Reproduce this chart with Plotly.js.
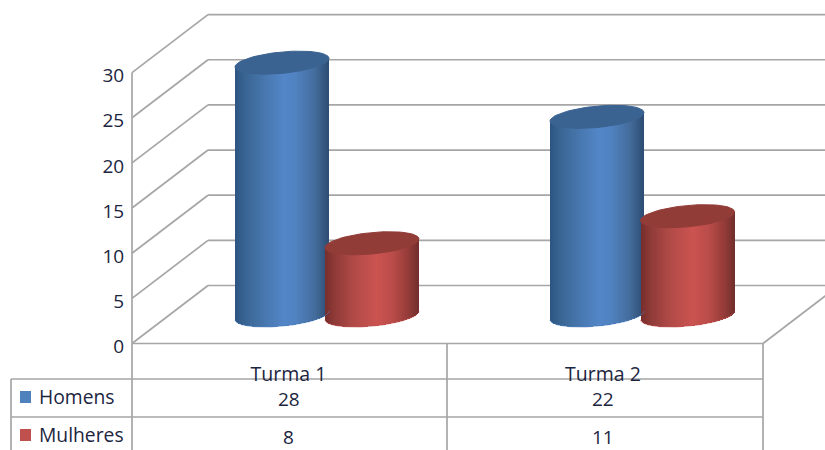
<!DOCTYPE html>
<html>
<head>
<meta charset="utf-8">
<script src="https://cdn.plot.ly/plotly-3.0.1.min.js"></script>
<style>html,body{margin:0;padding:0;background:#fff}#chart{width:825px;height:450px}</style>
</head>
<body>
<div id="chart"></div>
<script>
const categories = ['Turma 1', 'Turma 2'];
const seriesNames = ['Homens', 'Mulheres'];
const homens = [28, 22];
const mulheres = [8, 11];
const yTicks = [0, 5, 10, 15, 20, 25, 30];

const W = 825, H = 450;
const UNIT = 9.03, ZERO_PX = 343.5;
const val = px => (ZERO_PX - px) / UNIT;
const LINE = '#a6a6a6', TEXT = '#1c2540', FONT = '"Open Sans", "Noto Sans", sans-serif';

const FRONT_L = 132, FRONT_R = 763, MID = 447, DX = 76, DY = 58 / UNIT;
const catX = [288.5, 603];
const A = 47, B = 10.7 / UNIT, SHEAR = 4.3 / UNIT, BASE = 28 / UNIT;

const palette = {
  Homens: {top: '#3b6391', swatch: '#4f81bd',
    stops: [[0,[44,84,128]],[.1,[56,100,146]],[.3,[71,118,172]],[.52,[83,134,200]],[.65,[80,130,192]],[.85,[68,108,156]],[1,[44,76,114]]]},
  Mulheres: {top: '#923c38', swatch: '#c0504d',
    stops: [[0,[118,46,44]],[.1,[142,58,55]],[.3,[176,74,71]],[.55,[203,83,80]],[.72,[186,76,73]],[.88,[150,60,57]],[1,[112,46,44]]]}
};
function shade(stops, t) {
  for (let i = 1; i < stops.length; i++) {
    if (t <= stops[i][0]) {
      const [t0, c0] = stops[i-1], [t1, c1] = stops[i], f = (t - t0) / (t1 - t0);
      return 'rgb(' + c0.map((c, k) => Math.round(c + (c1[k] - c) * f)).join(',') + ')';
    }
  }
  return 'rgb(' + stops[stops.length-1][1].join(',') + ')';
}

function cylinder(name, value, cx) {
  const p = palette[name], xs = [], bases = [], heights = [], colors = [];
  for (let i = 0; i < 2 * A; i++) {
    const x = cx - A + i + 0.5, u = (x - cx) / A, curve = B * Math.sqrt(1 - u * u);
    xs.push(x);
    bases.push(BASE + SHEAR * u - curve);
    heights.push(value + curve);
    colors.push(shade(p.stops, (i + 0.5) / (2 * A)));
  }
  const body = {type: 'bar', x: xs, y: heights, base: bases, width: 1,
    marker: {color: colors, line: {width: 0}}, hoverinfo: 'skip'};
  const ex = [], ey = [], lx = [], ly = [];
  for (let d = 0; d <= 360; d += 5) {
    const t = d * Math.PI / 180;
    ex.push(cx + A * Math.cos(t));
    ey.push(BASE + value + SHEAR * Math.cos(t) + B * Math.sin(t));
    if (d >= 180) {
      lx.push(cx + A * Math.cos(t));
      ly.push(BASE + SHEAR * Math.cos(t) + B * Math.sin(t));
    }
  }
  const top = {type: 'scatter', mode: 'lines', x: ex, y: ey, fill: 'toself', fillcolor: p.top,
    line: {color: p.top, width: 1}, hoverinfo: 'skip'};
  const edge = {type: 'scatter', mode: 'lines', x: lx, y: ly,
    line: {color: shade(p.stops, .45), width: 1}, opacity: .6, hoverinfo: 'skip'};
  return [body, edge, top];
}

const centers = [[282, 372], [597, 687.5]];
const traces = [];
categories.forEach((c, i) => {
  traces.push(...cylinder(seriesNames[0], homens[i], centers[i][0]));
  traces.push(...cylinder(seriesNames[1], mulheres[i], centers[i][1]));
});

const shapes = [];
const seg = (x0, y0, x1, y1) => shapes.push({type: 'line', layer: 'below', xref: 'x', yref: 'y',
  x0, y0, x1, y1, line: {color: LINE, width: 1.7}});
yTicks.forEach(v => {
  seg(FRONT_L, v, FRONT_L + DX, v + DY);
  seg(FRONT_L + DX, v + DY, W + 5, v + DY);
});
seg(FRONT_L, 0, FRONT_L, yTicks[yTicks.length-1]);
seg(FRONT_L, 0, FRONT_R, 0);
seg(FRONT_R, 0, W + 5, DY * (W + 5 - FRONT_R) / DX);
const rowY = [379, 417];
rowY.forEach(y => seg(11, val(y), FRONT_R, val(y)));
seg(11, val(rowY[0]), 11, val(H + 2));
[FRONT_L, MID, FRONT_R].forEach(x => seg(x, 0, x, val(H + 2)));

const legendY = [397, 435];
const annotations = [];
seriesNames.forEach((n, i) => {
  shapes.push({type: 'rect', xref: 'x', yref: 'y', x0: 20, x1: 31,
    y0: val(legendY[i] - 6), y1: val(legendY[i] + 6), fillcolor: palette[n].swatch, line: {width: 0}});
  annotations.push({xref: 'x', yref: 'y', x: 39, y: val(legendY[i] - 0.5), text: n, showarrow: false,
    xanchor: 'left', yanchor: 'middle', xshift: -2, font: {family: FONT, size: 19.3, color: TEXT}});
});
[homens, mulheres].forEach((series, r) => series.forEach((v, i) => {
  annotations.push({xref: 'x', yref: 'y', x: catX[i], y: val(r ? 437 : 399), text: String(v), showarrow: false,
    xanchor: 'center', yanchor: 'middle', font: {family: FONT, size: 19, color: TEXT}});
}));

Plotly.newPlot('chart', traces, {
  width: W, height: H,
  margin: {l: 0, r: 0, t: 0, b: 0, pad: 0},
  paper_bgcolor: '#fff', plot_bgcolor: '#fff',
  showlegend: false, barmode: 'overlay', bargap: 0,
  xaxis: {range: [0, W], domain: [0, 1], anchor: 'free', position: (H - ZERO_PX) / H,
    tickmode: 'array', tickvals: catX, ticktext: categories,
    ticks: 'outside', ticklen: 13, tickcolor: 'rgba(0,0,0,0)',
    showgrid: false, zeroline: false, showline: false, fixedrange: true,
    tickfont: {family: FONT, size: 19.5, color: TEXT}},
  yaxis: {range: [val(H), val(0)], domain: [0, 1], anchor: 'free', position: FRONT_L / W, side: 'left',
    tickmode: 'array', tickvals: yTicks, ticktext: yTicks.map(String),
    ticks: 'outside', ticklen: 4, tickcolor: 'rgba(0,0,0,0)', ticklabelshift: 3,
    showgrid: false, zeroline: false, showline: false, fixedrange: true,
    tickfont: {family: FONT, size: 19, color: TEXT}},
  shapes, annotations
}, {displayModeBar: false, staticPlot: true});
</script>
</body>
</html>
